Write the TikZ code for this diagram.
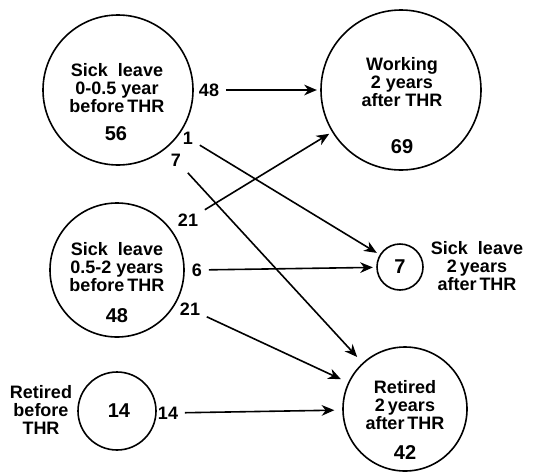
\documentclass[tikz,border=0pt]{standalone}
\usepackage{fontspec}
\setmainfont{Liberation Sans}
\usetikzlibrary{arrows.meta}

\tikzset{every picture/.style={line width=1.2pt}}
\tikzset{
  state/.style={draw, circle, inner sep=0pt},
  lbl/.style={font=\bfseries\fontsize{13.5}{13.3}\selectfont, align=center, inner sep=0pt},
  big/.style={font=\bfseries\fontsize{15}{15}\selectfont, inner sep=0pt},
  num/.style={font=\bfseries\fontsize{13.5}{14}\selectfont, inner sep=4.5pt},
  flow/.style={-{Stealth[length=9.5pt,width=8pt,inset=3pt]}, shorten >=2.5pt},
}

\begin{document}
\begin{tikzpicture}[x=0.75pt,y=0.75pt,yscale=-1,xscale=1]
	\useasboundingbox (0,0) rectangle (534,471);

	%Shape: Circle [sick leave 0-0.5 year]
	\node[state, minimum size=112.5pt] (sickA) at (118,90) {};
	%Shape: Circle [sick leave 0.5-2 years]
	\node[state, minimum size=100.5pt] (sickB) at (117,270) {};
	%Shape: Circle [retired before]
	\node[state, minimum size=58.5pt] (retB) at (117,411) {};
	%Shape: Circle [working after]
	\node[state, minimum size=120pt] (work) at (401,90) {};
	%Shape: Circle [sick leave after]
	\node[state, minimum size=34.5pt] (sickC) at (400,267) {};
	%Shape: Circle [retired after]
	\node[state, minimum size=93pt, outer sep=4pt] (retA) at (405,409) {};

	% Text Node
	\draw (117,88) node[lbl] {Sick\ \ leave\\0-0.5 year\\before\,THR};
	\draw (116,134) node[big] {56};
	% Text Node
	\draw (117,267) node[lbl] {Sick\ \ leave\\0.5-2 years\\before\,THR};
	\draw (117,316) node[big] {48};
	% Text Node
	\draw (119,411) node[big] {14};
	\draw (41,410) node[lbl] {Retired\\before\\THR};
	% Text Node
	\draw (402,82) node[lbl] {Working\\2 years\\after THR};
	\draw (402,147) node[big] {69};
	% Text Node
	\draw (400,267) node[big] {7};
	\draw (477,266) node[lbl] {Sick\ \ leave\\2\,years\\after\,THR};
	% Text Node
	\draw (405,405) node[lbl] {Retired\\2\,years\\after\,THR};
	\draw (405,453) node[big] {42};

	% Flow labels
	\node[num] (n48) at (209,90) {48};
	\node[num] (n1) at (188,138) {1};
	\node[num] (n7) at (176,160) {7};
	\node[num] (n21a) at (188,220) {21};
	\node[num] (n6) at (197,270) {6};
	\node[num] (n21b) at (190,309) {21};
	\node[num] (n14) at (168,413) {14};

	%Straight Lines
	\draw[flow] (n48) -- (work);
	\draw[flow] (n1) -- (sickC);
	\draw[flow] (n7) -- (retA);
	\draw[flow] (n21a) -- (work);
	\draw[flow] (n6) -- (sickC);
	\draw[flow] (n21b) -- (retA);
	\draw[flow] (n14) -- (retA);

\end{tikzpicture}
\end{document}
